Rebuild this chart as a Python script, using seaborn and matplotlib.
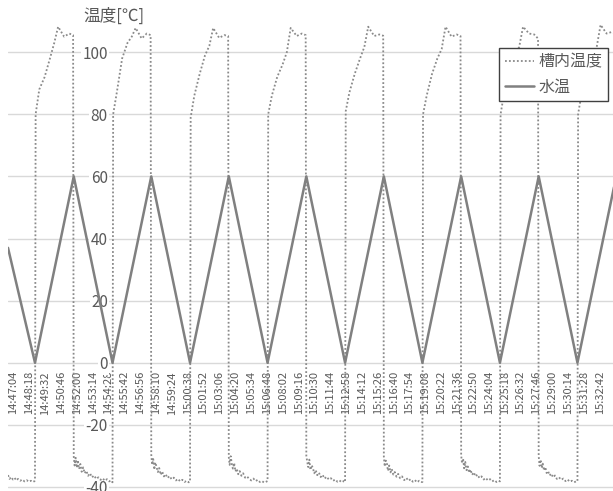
import matplotlib; matplotlib.use('Agg')
import matplotlib.pyplot as plt
import seaborn as sns
import pandas as pd

# time axis: seconds from 14:47:04
tick_labels = ["14:47:04","14:48:18","14:49:32","14:50:46","14:52:00","14:53:14","14:54:28","14:55:42",
               "14:56:56","14:58:10","14:59:24","15:00:38","15:01:52","15:03:06","15:04:20","15:05:34",
               "15:06:48","15:08:02","15:09:16","15:10:30","15:11:44","15:12:58","15:14:12","15:15:26",
               "15:16:40","15:17:54","15:19:08","15:20:22","15:21:36","15:22:50","15:24:04","15:25:18",
               "15:26:32","15:27:46","15:29:00","15:30:14","15:31:28","15:32:42"]
y_ticks = [-40, -20, 0, 20, 40, 60, 80, 100]

# tank temperature (槽内温度)
lead_t = [-25, -18, -10, -2, 6, 14, 22, 32, 42, 52, 62, 72, 82, 92, 99]
lead_v = [-36.2, -37.4, -36.8, -37.6, -37.1, -37.9, -37.4, -38.0, -37.6, -38.2, -37.8, -38.3, -38.0, -38.4, -38.1]
cycle_start = [101, 463, 825, 1187, 1549, 1910, 2272, 2634]
hot_offsets = [0, 3, 20, 45, 70, 90, 108, 136, 160, 178]
hot_1 = [-37.8, 80, 88, 92, 98, 103, 108.2, 105.0, 106.0, 105.5]
hot_2 = [-38.5, 80, 87, 98, 103, 105, 107.8, 104.4, 106.0, 105.5]
hot_3 = [-38.3, 79, 86, 93, 99, 102, 107.8, 104.6, 105.5, 105.2]
hot_4 = [-38.1, 80, 86, 92, 96, 100, 107.8, 105.2, 106.0, 105.5]
hot_5 = [-38.4, 81, 87, 93, 98, 101.7, 108.2, 105.2, 105.7, 105.3]
hot_6 = [-38.4, 80, 86, 93, 98, 101, 108.2, 105.0, 105.7, 105.2]
hot_7 = [-38.2, 80, 87, 94, 99, 101.7, 108.2, 106.0, 105.7, 104.4]
hot_8 = [-38.2, 80, 87, 94, 99, 101.7, 108.8, 106.0, 106.5, 106.0]
cold_offsets = [181, 185, 190, 195, 200, 206, 212, 218, 225, 232, 240, 248, 257, 266, 276, 286, 296, 306, 316, 326, 336, 346, 356]
cold_1 = [-30.2, -33.1, -30.6, -33.8, -31.4, -34.2, -32.6, -35.1, -33.7, -35.6, -34.8, -36.4, -35.6, -36.9, -36.3, -37.4, -36.9, -37.7, -37.2, -38.0, -37.5, -38.2, -37.9]
cold_2 = [-29.6, -32.8, -31.0, -34.4, -32.1, -33.6, -35.2, -33.9, -36.1, -35.0, -36.6, -35.9, -37.1, -36.5, -37.5, -37.0, -37.9, -37.4, -38.2, -37.7, -38.4, -38.0, -38.5]
cold_3 = [-30.4, -32.9, -30.1, -32.6, -34.1, -32.3, -35.0, -34.1, -35.9, -34.9, -36.4, -35.6, -37.0, -36.6, -37.4, -37.9, -37.3, -38.1, -37.7, -38.4, -38.1, -38.6, -38.3]
cold_4 = [-30.0, -31.8, -33.6, -31.2, -34.5, -33.0, -34.0, -35.6, -34.6, -36.2, -35.4, -36.8, -36.1, -37.3, -36.7, -37.6, -37.2, -38.0, -37.6, -38.3, -37.9, -38.5, -38.1]
cold_5 = [-30.3, -33.4, -31.5, -32.2, -34.8, -33.1, -35.3, -34.2, -36.0, -35.2, -36.7, -35.8, -37.2, -36.6, -37.8, -37.1, -38.0, -37.5, -38.3, -37.8, -38.5, -38.0, -38.4]
cold_6 = [-29.8, -32.4, -30.9, -34.0, -31.9, -34.6, -33.4, -35.4, -34.4, -36.1, -35.3, -36.6, -36.0, -37.1, -36.6, -37.6, -37.1, -37.9, -37.5, -38.2, -37.8, -38.4, -38.0]
cold_7 = [-30.1, -33.2, -31.2, -33.9, -32.5, -34.7, -33.6, -35.5, -34.9, -36.3, -35.7, -36.9, -36.3, -37.4, -36.9, -37.7, -37.3, -38.1, -37.6, -38.3, -38.0, -38.5, -38.2]

# water temperature (水温)
water_t = [-25, 101, 282, 463, 644, 825, 1006, 1187, 1368, 1549, 1730, 1910, 2091, 2272, 2453, 2634, 2815]
water_v = [37, 0, 60, 0, 60, 0, 60, 0, 60, 0, 60, 0, 60, 0, 60, 0, 60]

def secs(s):
    h, m, x = map(int, s.split(':'))
    return h*3600 + m*60 + x

hots = [hot_1, hot_2, hot_3, hot_4, hot_5, hot_6, hot_7, hot_8]
colds = [cold_1, cold_2, cold_3, cold_4, cold_5, cold_6, cold_7]
tt, tv = list(lead_t), list(lead_v)
for i, c in enumerate(cycle_start):
    tt += [c + o for o in hot_offsets]; tv += hots[i]
    if i < len(colds):
        tt += [c + o for o in cold_offsets]; tv += colds[i]
tank = pd.DataFrame({'t': tt, 'v': tv})
water = pd.DataFrame({'t': water_t, 'v': water_v})

sns.set_style('white')
plt.rcParams['font.family'] = ['Noto Sans CJK JP', 'DejaVu Sans']
fig = plt.figure(figsize=(6.13, 4.91), dpi=100)
ax = fig.add_axes([8/613, 0, 605/613, 1])
ax.set_axisbelow(True)
sns.lineplot(data=tank, x='t', y='v', ax=ax, estimator=None, sort=False, color='#8a8a8a',
             linewidth=1.3, linestyle=(0, (1, 1.2)), label='槽内温度')
sns.lineplot(data=water, x='t', y='v', ax=ax, estimator=None, sort=False, color='#808080',
             linewidth=1.8, label='水温')

ax.set_xlim(-25, 2800); ax.set_ylim(-41.3, 116.8)
t0 = secs(tick_labels[0])
ax.set_xticks([secs(s) - t0 for s in tick_labels]); ax.set_xticklabels(tick_labels)
ax.set_yticks(y_ticks); ax.set_yticklabels([str(v) for v in y_ticks])
ax.grid(axis='y', color='#d9d9d9', linewidth=1); ax.grid(axis='x', visible=False)
for s in ax.spines.values(): s.set_visible(False)
ax.spines['bottom'].set_position(('data', 0))
ax.spines['left'].set_position(('axes', 104/605))
ax.tick_params(axis='x', length=0, pad=6, labelsize=8, labelcolor='#595959', labelrotation=90)
ax.tick_params(axis='y', length=0, pad=3, labelsize=11, labelcolor='#595959')
for lb in ax.get_yticklabels():
    lb.set_bbox(dict(facecolor='white', edgecolor='none', pad=1))
ax.set_xlabel(''); ax.set_ylabel('')

fig.text(83/613, 1 - 16/491, '温度[℃]', ha='left', va='center', fontsize=12, color='#595959')
leg = ax.legend(loc='upper right', bbox_to_anchor=(608/613, 1 - 48/491), bbox_transform=fig.transFigure,
                fontsize=11.5, frameon=True, fancybox=False, framealpha=1, edgecolor='#404040',
                handlelength=1.8, handletextpad=0.3, labelspacing=0.5, borderpad=0.35, borderaxespad=0)
leg.get_frame().set_linewidth(1)
for t in leg.get_texts(): t.set_color('#595959')
fig.savefig('out.png', dpi=100)
